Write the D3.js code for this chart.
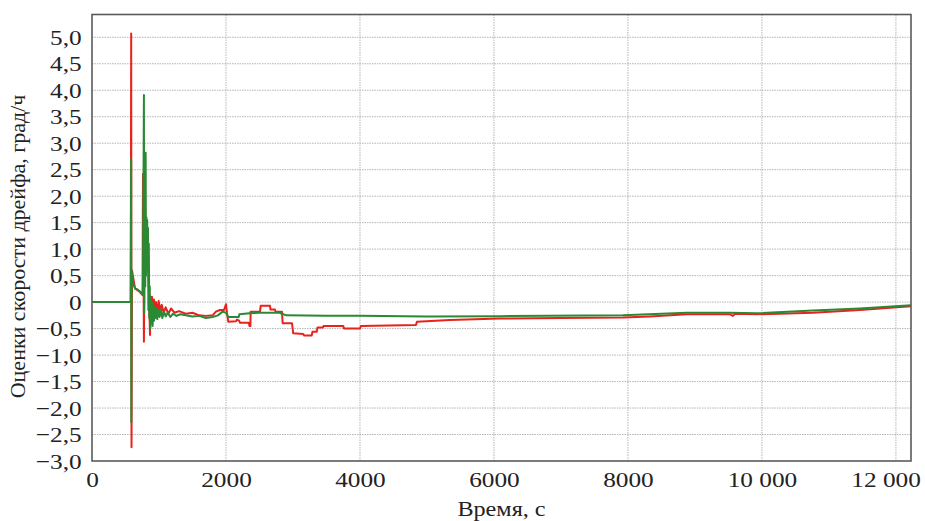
<!DOCTYPE html>
<html>
<head>
<meta charset="utf-8">
<script src="https://cdn.jsdelivr.net/npm/d3@7"></script>
<style>
  html, body { margin: 0; padding: 0; background: #fff; }
  svg text { font-family: "Liberation Serif", "Times New Roman", serif; fill: #222; }
</style>
</head>
<body>
<svg id="chart" width="925" height="521"></svg>
<script>
// Drift-rate estimates over time (two estimators)
const xTicks = [0, 2000, 4000, 6000, 8000, 10000, 12000];
const xTickLabels = ["0", "2000", "4000", "6000", "8000", "10 000", "12 000"];
const yTicks = [-3, -2.5, -2, -1.5, -1, -0.5, 0, 0.5, 1, 1.5, 2, 2.5, 3, 3.5, 4, 4.5, 5];
const yTickLabels = ["−3,0", "−2,5", "−2,0", "−1,5", "−1,0", "−0,5", "0", "0,5", "1,0", "1,5", "2,0", "2,5", "3,0", "3,5", "4,0", "4,5", "5,0"];

// time, s
const redTime = [0, 578, 585, 590, 597, 642, 716, 754, 761, 775, 790, 812, 830, 850, 866, 875,
  880, 895, 910, 925, 940, 955, 975, 995, 1015, 1040, 1070, 1100, 1140, 1180, 1230, 1300, 1400,
  1500, 1600, 1700, 1800, 1850, 1910, 1970, 2000, 2015, 2034, 2150, 2165, 2195, 2210, 2343, 2350,
  2365, 2368, 2507, 2518, 2657, 2664, 2731, 2739, 2836, 2846, 2985, 3004, 3154, 3164, 3279, 3291,
  3354, 3366, 3448, 3455, 3751, 3761, 4000, 4015, 4836, 4850, 5343, 6090, 6985, 7925, 8328, 8880,
  9522, 9567, 9597, 9925, 10761, 11462, 12225];
// deg/h
const redValue = [0, 0, 5.07, -2.74, 0.6, 0.26, 0.19, 0.13, 2.42, -0.75, 1.9, 0.8, 1.3, 0.2, -0.62, 0.1,
  -0.1, 0.1, -0.3, 0.05, -0.25, 0.0, -0.2, 0.02, -0.15, -0.05, -0.2, -0.1, -0.22, -0.12, -0.2, -0.17, -0.22,
  -0.2, -0.25, -0.26, -0.25, -0.18, -0.15, -0.15, -0.04, -0.2, -0.37, -0.36, -0.33, -0.35, -0.39, -0.39, -0.45,
  -0.45, -0.18, -0.18, -0.07, -0.07, -0.14, -0.14, -0.18, -0.18, -0.4, -0.4, -0.59, -0.6, -0.63, -0.63, -0.56,
  -0.56, -0.48, -0.48, -0.45, -0.45, -0.5, -0.5, -0.45, -0.43, -0.37, -0.34, -0.31, -0.3, -0.29, -0.27, -0.23,
  -0.23, -0.26, -0.22, -0.23, -0.2, -0.15, -0.08];

const greenTime = [0, 578, 584, 587, 592, 600, 615, 642, 680, 716, 740, 760, 775, 779, 786, 795, 801,
  806, 812, 818, 824, 830, 836, 842, 848, 855, 862, 870, 878, 886, 895, 905, 915, 925, 935, 945, 960,
  975, 990, 1010, 1030, 1050, 1075, 1100, 1130, 1170, 1210, 1260, 1320, 1400, 1500, 1600, 1700, 1800,
  1880, 1950, 2000, 2030, 2190, 2200, 2350, 2500, 2800, 2900, 3500, 4000, 5000, 6090, 7925, 8880,
  9522, 9925, 10761, 11462, 12225];
const greenValue = [0, 0, 2.7, -2.27, 0.6, 0.45, 0.35, 0.26, 0.24, 0.2, 0.18, 0.14, 3.91, -0.2, 2.3, 0.3, 2.82,
  0.5, 1.6, 0.9, 1.55, 0.6, 1.4, -0.15, 1.1, -0.3, 0.3, -0.5, 0.05, -0.4, 0.0, -0.45, -0.05, -0.35, -0.1, -0.3, -0.12,
  -0.32, -0.15, -0.28, -0.14, -0.3, -0.18, -0.27, -0.2, -0.28, -0.22, -0.26, -0.23, -0.25, -0.27, -0.26, -0.3, -0.28,
  -0.25, -0.18, -0.2, -0.28, -0.28, -0.23, -0.21, -0.2, -0.2, -0.25, -0.26, -0.26, -0.27, -0.265, -0.25, -0.2,
  -0.2, -0.21, -0.16, -0.12, -0.06];

const svg = d3.select("#chart");
const plotL = 92, plotR = 911, plotT = 14.5, plotB = 461;
const widen = 1.15; // horizontal stretch of the tick lettering

const x = d3.scaleLinear().domain([0, 12225]).range([plotL, plotR]);
const y = d3.scaleLinear().domain([-3, 5.43]).range([plotB, plotT]);

// grid
const grid = svg.append("g");
grid.selectAll("line.h").data(yTicks.filter(v => v > -3)).join("line")
  .attr("x1", plotL).attr("x2", plotR)
  .attr("y1", d => y(d)).attr("y2", d => y(d))
  .attr("stroke", "#b5b5b5").attr("stroke-width", 1).attr("stroke-dasharray", "1.5,1");
grid.selectAll("line.v").data(xTicks.filter(v => v > 0)).join("line")
  .attr("y1", plotT).attr("y2", plotB)
  .attr("x1", d => x(d)).attr("x2", d => x(d))
  .attr("stroke", "#b5b5b5").attr("stroke-width", 1).attr("stroke-dasharray", "1.5,1");

// series
const line = d3.line().x(d => x(d[0])).y(d => y(d[1]));
svg.append("clipPath").attr("id", "plot")
  .append("rect").attr("x", plotL).attr("y", plotT).attr("width", plotR - plotL).attr("height", plotB - plotT);
const series = svg.append("g").attr("clip-path", "url(#plot)");
series.append("path")
  .datum(d3.zip(redTime, redValue))
  .attr("d", line).attr("fill", "none")
  .attr("stroke", "#e8231d").attr("stroke-width", 2).attr("stroke-linejoin", "round");
series.append("path")
  .datum(d3.zip(greenTime, greenValue))
  .attr("d", line).attr("fill", "none")
  .attr("stroke", "#2a8a33").attr("stroke-width", 2).attr("stroke-linejoin", "round");

// frame
svg.append("rect").attr("x", plotL).attr("y", plotT).attr("width", plotR - plotL).attr("height", plotB - plotT)
  .attr("fill", "none").attr("stroke", "#5a5a5a").attr("stroke-width", 1.6);

// axes (labels only, gridlines mark the ticks)
const yAxis = d3.axisLeft(y).tickValues(yTicks).tickSize(0).tickPadding(9)
  .tickFormat((d, i) => yTickLabels[i]);
const gy = svg.append("g").attr("transform", `translate(${plotL},0)`).call(yAxis);
gy.select(".domain").remove();
gy.selectAll("text").style("font-size", "22px").attr("fill", "#222")
  .style("font-family", '"Liberation Serif", serif')
  .attr("transform", `scale(${widen},1)`);

const xAxis = d3.axisBottom(x).tickValues(xTicks).tickSize(0).tickPadding(10)
  .tickFormat((d, i) => xTickLabels[i]);
const gx = svg.append("g").attr("transform", `translate(0,${plotB})`).call(xAxis);
gx.select(".domain").remove();
gx.selectAll("text").style("font-size", "22px").attr("fill", "#222")
  .style("font-family", '"Liberation Serif", serif')
  .attr("transform", `scale(${widen},1)`);
// keep the last tick label inside the page
gx.selectAll("text").filter(d => d === 12000).attr("dx", -9);

svg.append("text").attr("transform", `translate(${(plotL + plotR) / 2},516) scale(1.1,1)`)
  .attr("text-anchor", "middle").style("font-size", "22px")
  .text("Время, с");

svg.append("text").attr("transform", "translate(25,246.5) rotate(-90)")
  .attr("text-anchor", "middle").style("font-size", "22px")
  .text("Оценки скорости дрейфа, град/ч");
</script>
</body>
</html>
